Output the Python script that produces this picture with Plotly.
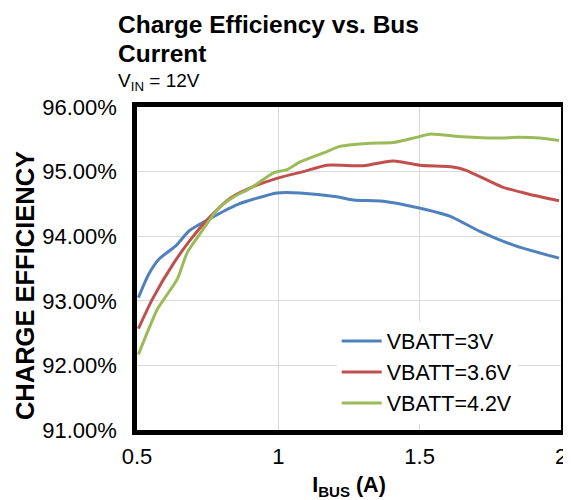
import plotly.graph_objects as go

# ---- data ----
x_3v = [0.505, 0.54, 0.579, 0.637, 0.684, 0.761, 0.855, 0.995, 1.077, 1.207, 1.265, 1.371, 1.494, 1.606, 1.711, 1.840, 1.993]
y_3v = [93.05, 93.40, 93.65, 93.85, 94.08, 94.28, 94.49, 94.67, 94.67, 94.61, 94.56, 94.54, 94.44, 94.31, 94.08, 93.85, 93.66]

x_36v = [0.505, 0.555, 0.631, 0.690, 0.761, 0.831, 0.913, 1.007, 1.089, 1.171, 1.300, 1.394, 1.418, 1.500, 1.617, 1.664, 1.793, 1.887, 1.993]
y_36v = [92.57, 93.03, 93.59, 93.95, 94.31, 94.59, 94.77, 94.91, 95.00, 95.10, 95.09, 95.16, 95.16, 95.10, 95.07, 95.02, 94.76, 94.65, 94.55]

x_42v = [0.505, 0.573, 0.596, 0.643, 0.678, 0.725, 0.784, 0.843, 0.901, 0.983, 1.031, 1.077, 1.160, 1.218, 1.324, 1.406, 1.488, 1.535, 1.652, 1.770, 1.852, 1.923, 1.993]
y_42v = [92.17, 92.88, 93.03, 93.34, 93.75, 94.05, 94.41, 94.61, 94.74, 94.98, 95.03, 95.15, 95.29, 95.39, 95.44, 95.45, 95.53, 95.58, 95.54, 95.52, 95.53, 95.52, 95.48]

series_names = ["VBATT=3V", "VBATT=3.6V", "VBATT=4.2V"]
series_colors = ["#4F81BD", "#C0504D", "#9BBB59"]

x_ticks = [0.5, 1, 1.5, 2]
x_tick_labels = ["0.5", "1", "1.5", "2"]
y_ticks = [91, 92, 93, 94, 95, 96]
y_tick_labels = ["91.00%", "92.00%", "93.00%", "94.00%", "95.00%", "96.00%"]

FONT = "Arial, Liberation Sans, sans-serif"

# page body has an 8px margin, so the figure is offset by 8px in the window
W, H = 563, 492
L, R, T, B = 129, 10, 99, 70
PW, PH = W - L - R, H - T - B

fig = go.Figure()
for xs, ys, name, col in zip([x_3v, x_36v, x_42v], [y_3v, y_36v, y_42v], series_names, series_colors):
    fig.add_trace(go.Scatter(x=xs, y=ys, name=name, mode="lines",
                             line=dict(color=col, width=3, shape="spline", smoothing=0.6)))

title_font = dict(size=24.5, family=FONT, color="black")
fig.update_layout(
    width=W, height=H,
    margin=dict(l=L, r=R, t=T, b=B, autoexpand=False),
    paper_bgcolor="white", plot_bgcolor="white",
    font=dict(family=FONT, color="black", size=21),
    showlegend=True,
    legend=dict(x=0.471, xanchor="left", y=0.339, yanchor="top",
                bgcolor="white", borderwidth=0,
                font=dict(size=21.5, family=FONT, color="black"),
                itemwidth=40, tracegroupgap=0),
    annotations=[
        dict(text="<b>Charge Efficiency vs. Bus</b>", xref="paper", yref="paper",
             x=(108 - L) / PW, xanchor="left", y=1 + (T - 1) / PH, yanchor="top", align="left",
             showarrow=False, font=title_font),
        dict(text="<b>Current</b>", xref="paper", yref="paper",
             x=(108 - L) / PW, xanchor="left", y=1 + (T - 30) / PH, yanchor="top", align="left",
             showarrow=False, font=title_font),
        dict(text="V<sub>IN</sub> = 12V", xref="paper", yref="paper",
             x=(108 - L) / PW, xanchor="left", y=1 + (T - 88) / PH, yanchor="bottom",
             showarrow=False, font=dict(size=19, family=FONT, color="black")),
        dict(text="<b>CHARGE EFFICIENCY</b>", xref="paper", yref="paper",
             x=-112 / PW, xanchor="center", y=0.5 - 17.6 / PH, yanchor="middle",
             textangle=-90, showarrow=False, font=dict(size=25.5, family=FONT, color="black")),
    ],
)

fig.update_xaxes(range=[0.5, 2], tickvals=x_ticks, ticktext=x_tick_labels,
                 showgrid=True, gridcolor="#D9D9D9", gridwidth=1,
                 showline=True, linecolor="black", linewidth=4.5, mirror=True,
                 ticks="", tickfont=dict(size=22, family=FONT), ticklabelstandoff=3,
                 zeroline=False,
                 title=dict(text="<b>I<sub>BUS</sub> (A)</b>", font=dict(size=21.5, family=FONT), standoff=24))
fig.update_yaxes(range=[91, 96], tickvals=y_ticks, ticktext=y_tick_labels,
                 showgrid=True, gridcolor="#D9D9D9", gridwidth=1,
                 showline=True, linecolor="black", linewidth=4.5, mirror=True,
                 ticks="", tickfont=dict(size=22, family=FONT), ticklabelstandoff=11,
                 zeroline=False)

fig.write_html("out.html")
